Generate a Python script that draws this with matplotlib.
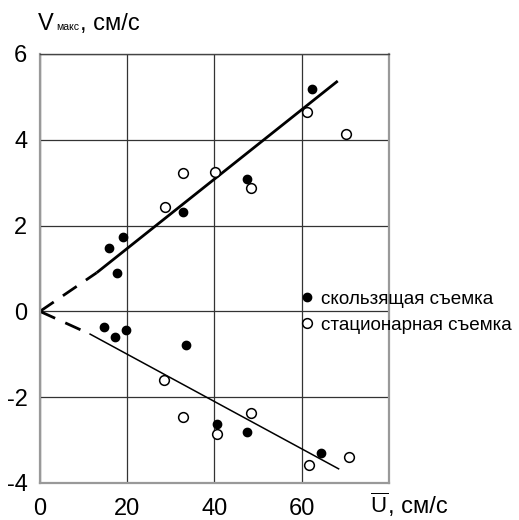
import matplotlib
matplotlib.use('Agg')
import matplotlib.pyplot as plt

plt.rcParams['font.family'] = ['Liberation Sans', 'DejaVu Sans']
plt.rcParams['mathtext.fontset'] = 'custom'
plt.rcParams['mathtext.rm'] = 'Liberation Sans'
plt.rcParams['mathtext.it'] = 'Liberation Sans'
plt.rcParams['axes.unicode_minus'] = False

# скользящая съемка (filled)
slide_u = [15.9, 19.1, 32.9, 47.4, 62.3, 17.7, 14.8, 17.1, 19.8, 33.5, 40.7, 47.5, 64.4]
slide_v = [1.47, 1.74, 2.32, 3.08, 5.19, 0.90, -0.37, -0.60, -0.44, -0.79, -2.63, -2.81, -3.30]

# стационарная съемка (open)
stat_u = [28.7, 32.8, 40.2, 48.3, 61.2, 70.3, 28.5, 32.9, 40.6, 48.3, 61.6, 71.0]
stat_v = [2.44, 3.23, 3.26, 2.88, 4.65, 4.14, -1.60, -2.47, -2.86, -2.37, -3.58, -3.40]

# fitted lines: solid part and dashed extension to origin
up_x = [13.0, 68.3]
up_y = [0.90, 5.37]
up_dash_x = [0, 13.0]
up_dash_y = [0, 0.90]
low_x = [11.5, 68.5]
low_y = [-0.53, -3.67]
low_dash_x = [0, 11.5]
low_dash_y = [0, -0.53]

xticks = [0, 20, 40, 60]
yticks = [-4, -2, 0, 2, 4, 6]

fig = plt.figure(figsize=(5.19, 5.20), dpi=100)
ax = fig.add_axes([0.077, 0.0712, 0.672, 0.825])

ax.set_xlim(0, 80)
ax.set_ylim(-4, 6)
ax.set_xticks(xticks)
ax.set_yticks(yticks)
ax.grid(True, color='#333333', linewidth=0.9)
ax.set_axisbelow(True)
ax.tick_params(length=0, labelsize=17)
ax.tick_params(axis='y', pad=9)
ax.tick_params(axis='x', pad=11)

for side in ['left', 'bottom', 'right']:
    ax.spines[side].set_color('#999999')
    ax.spines[side].set_linewidth(1.6)
ax.spines['top'].set_color('#444444')
ax.spines['top'].set_linewidth(1.0)

dash = (6, 4)
ax.plot(up_x, up_y, color='black', linewidth=2.0, solid_capstyle='butt')
ax.plot(up_dash_x, up_dash_y, color='black', linewidth=2.0, dashes=dash)
ax.plot(low_x, low_y, color='black', linewidth=1.1)
ax.plot(low_dash_x, low_dash_y, color='black', linewidth=2.0, dashes=dash)

ax.plot(slide_u, slide_v, 'o', color='black', markersize=6, linestyle='none',
        label='скользящая съемка', clip_on=False)
ax.plot(stat_u, stat_v, 'o', markerfacecolor='white', markeredgecolor='black',
        markeredgewidth=1.1, markersize=7, linestyle='none',
        label='стационарная съемка', clip_on=False)

ax.legend(loc='upper left', bbox_to_anchor=(0.752, 0.448), frameon=False,
          fontsize=13.6, handlelength=0.55, handletextpad=0.42, borderpad=0,
          borderaxespad=0, labelspacing=0.45)

# axis titles
base = 1 - 30 / 520
fig.text(38 / 519, base, 'V', fontsize=17, ha='left', va='baseline')
fig.text(56 / 519, base, 'макс', fontsize=7.5, ha='left', va='baseline')
fig.text(80 / 519, base, ', см/с', fontsize=17, ha='left', va='baseline')
ubase = 1 - 513 / 520
fig.text(370 / 519, ubase, r'$\overline{\mathrm{U}}$', fontsize=16,
         ha='left', va='baseline')
fig.text(388 / 519, ubase, ', см/с', fontsize=17, ha='left', va='baseline')

fig.savefig('out.png', dpi=100)
